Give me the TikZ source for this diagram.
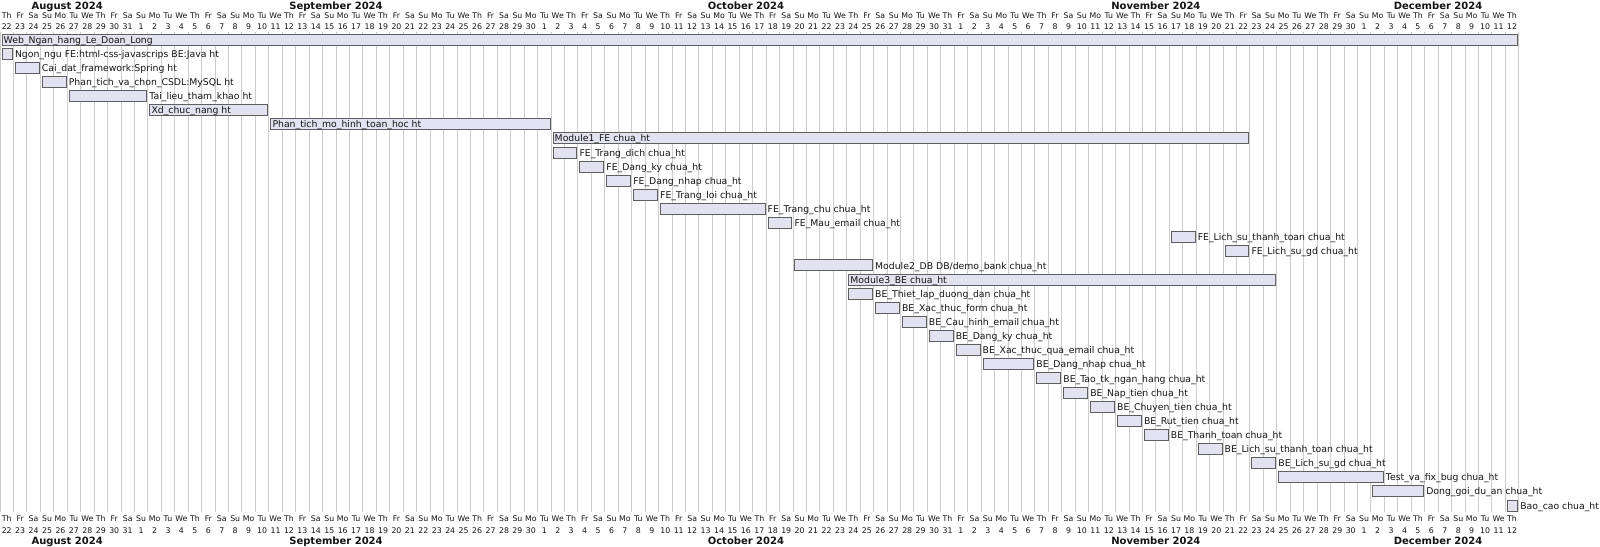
\documentclass[tikz,border=0pt]{standalone}
\usepackage{fontspec}
\setmainfont{DejaVu Sans}
\usepackage{xcolor}
\usepackage{tikz}
\usetikzlibrary{positioning}
\definecolor{BarFill}{RGB}{226, 226, 240}
\definecolor{BarEdge}{RGB}{95, 95, 95}
\definecolor{GridGray}{RGB}{205, 205, 205}
\definecolor{InkBlack}{RGB}{20, 20, 20}
\newcommand{\wkday}[1]{\ifcase#1 Th\or Fr\or Sa\or Su\or Mo\or Tu\or We\fi}
\tikzset{
  bar/.style={rectangle, draw=BarEdge, fill=BarFill, line width=0.9pt,
    minimum height=11pt, inner sep=0pt, anchor=west, xshift=1.5pt},
  lbl/.style={font=\fontsize{9.3}{11}\selectfont, text=InkBlack,
    inner sep=1pt, text height=0.73em, text depth=0pt},
  lblout/.style={lbl, right=1pt of #1},
  lblin/.style={lbl, at={(#1.west)}, anchor=west, xshift=1pt},
  daylbl/.style={font=\fontsize{7.8}{9}\selectfont, text=InkBlack,
    inner sep=0pt, text height=0.73em, text depth=0pt},
  monthlbl/.style={font=\fontsize{10}{12}\selectfont\bfseries, text=InkBlack,
    inner sep=0pt, text height=0.73em, text depth=0pt},
  gridline/.style={draw=GridGray, line width=0.9pt},
}
\begin{document}
\begin{tikzpicture}[x=13.44pt, y=-1pt]
  \useasboundingbox[fill=white] (0pt,0pt) rectangle (1600pt,-546pt);
  % day columns
  \foreach \i in {0,...,113} \draw[gridline] (\i,32) -- (\i,512);
  % calendar header and footer
  \foreach \i in {0,...,112}{
    \pgfmathtruncatemacro{\wk}{mod(\i,7)}
    \pgfmathtruncatemacro{\dnum}{\i<10 ? 22+\i : (\i<40 ? \i-9 : (\i<71 ? \i-39 : (\i<101 ? \i-70 : \i-100)))}
    \node[daylbl] (wt\i) at (\i+0.5,15.3) {\wkday{\wk}};
    \node[daylbl] (dt\i) at (\i+0.5,26.3) {\dnum};
    \node[daylbl] (wb\i) at (\i+0.5,517.7) {\wkday{\wk}};
    \node[daylbl] (db\i) at (\i+0.5,530) {\dnum};
  }
  \foreach \m/\c [count=\k] in {August 2024/5, September 2024/25,
      October 2024/55.5, November 2024/86, December 2024/107}{
    \node[monthlbl] (mt\k) at (\c,6) {\m};
    \node[monthlbl] (mb\k) at (\c,540.7) {\m};
  }
  % tasks: start / days / label place / text
  \foreach \s/\n/\lp/\txt [count=\r] in {
      0/113/lblin/{Web\_Ngan\_hang\_Le\_Doan\_Long},
      0/1/lblout/{Ngon\_ngu FE:html-css-javascrips BE:Java ht},
      1/2/lblout/{Cai\_dat\_framework:Spring ht},
      3/2/lblout/{Phan\_tich\_va\_chon\_CSDL:MySQL ht},
      5/6/lblout/{Tai\_lieu\_tham\_khao ht},
      11/9/lblin/{Xd\_chuc\_nang ht},
      20/21/lblin/{Phan\_tich\_mo\_hinh\_toan\_hoc ht},
      41/52/lblin/{Module1\_FE chua\_ht},
      41/2/lblout/{FE\_Trang\_dich chua\_ht},
      43/2/lblout/{FE\_Dang\_ky chua\_ht},
      45/2/lblout/{FE\_Dang\_nhap chua\_ht},
      47/2/lblout/{FE\_Trang\_loi chua\_ht},
      49/8/lblout/{FE\_Trang\_chu chua\_ht},
      57/2/lblout/{FE\_Mau\_email chua\_ht},
      87/2/lblout/{FE\_Lich\_su\_thanh\_toan chua\_ht},
      91/2/lblout/{FE\_Lich\_su\_gd chua\_ht},
      59/6/lblout/{Module2\_DB DB/demo\_bank chua\_ht},
      63/32/lblin/{Module3\_BE chua\_ht},
      63/2/lblout/{BE\_Thiet\_lap\_duong\_dan chua\_ht},
      65/2/lblout/{BE\_Xac\_thuc\_form chua\_ht},
      67/2/lblout/{BE\_Cau\_hinh\_email chua\_ht},
      69/2/lblout/{BE\_Dang\_ky chua\_ht},
      71/2/lblout/{BE\_Xac\_thuc\_qua\_email chua\_ht},
      73/4/lblout/{BE\_Dang\_nhap chua\_ht},
      77/2/lblout/{BE\_Tao\_tk\_ngan\_hang chua\_ht},
      79/2/lblout/{BE\_Nap\_tien chua\_ht},
      81/2/lblout/{BE\_Chuyen\_tien chua\_ht},
      83/2/lblout/{BE\_Rut\_tien chua\_ht},
      85/2/lblout/{BE\_Thanh\_toan chua\_ht},
      89/2/lblout/{BE\_Lich\_su\_thanh\_toan chua\_ht},
      93/2/lblout/{BE\_Lich\_su\_gd chua\_ht},
      95/8/lblout/{Test\_va\_fix\_bug chua\_ht},
      102/4/lblout/{Dong\_goi\_du\_an chua\_ht},
      112/1/lblout/{Bao\_cao chua\_ht}}{
    \node[bar, minimum width=13.44*\n-3] (t\r) at (\s,{39.5+14.12*(\r-1)}) {};
    \node[\lp=t\r] (l\r) {\txt};
  }
\end{tikzpicture}
\end{document}
